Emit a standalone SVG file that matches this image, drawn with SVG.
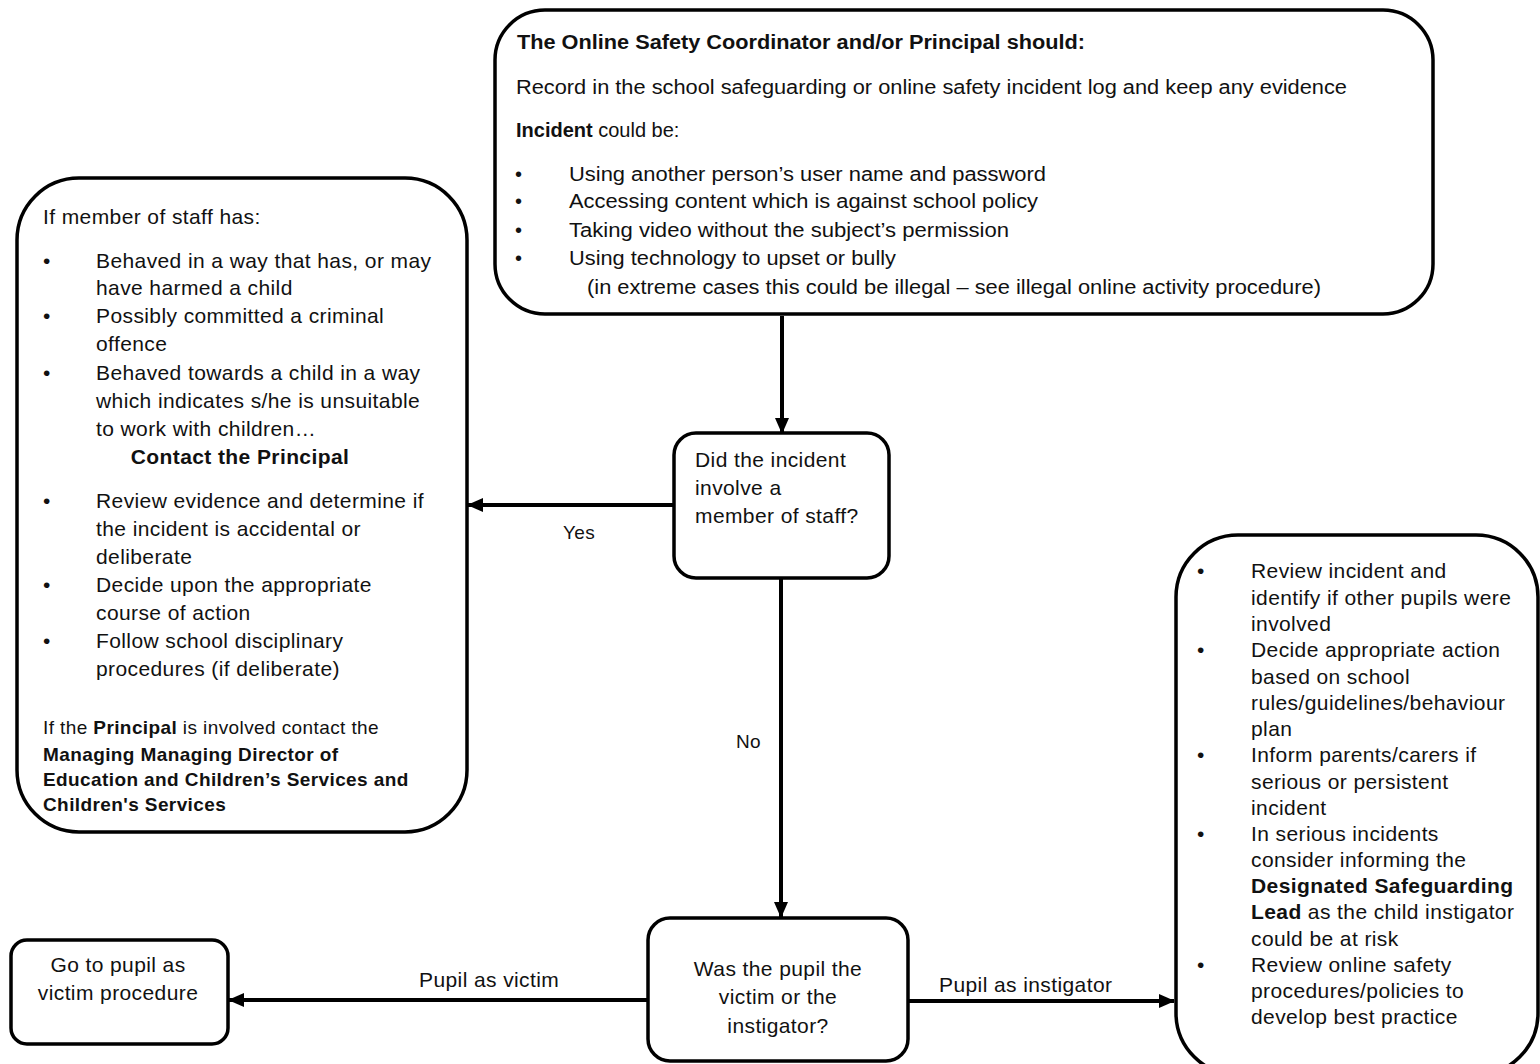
<svg xmlns="http://www.w3.org/2000/svg" width="1540" height="1064" viewBox="0 0 1540 1064">
<defs>
<marker id="ah" markerUnits="userSpaceOnUse" markerWidth="16" markerHeight="14" refX="15" refY="7" orient="auto">
<path d="M0,0 L16,7 L0,14 z" fill="#000"/>
</marker>
<style>
.box{fill:#fff;stroke:#000;stroke-width:3.5}
.t{font-family:"Liberation Sans",Arial,sans-serif;font-size:21px;letter-spacing:0.4px;fill:#111}
.n{font-size:20px;letter-spacing:0}
.b{font-weight:bold}
.s{font-size:19px}
.c{text-anchor:middle}
.edge{stroke:#000;stroke-width:4;fill:none;marker-end:url(#ah)}
</style>
</defs>
<rect width="1540" height="1064" fill="#fff"/>

<g id="connectors">
<line class="edge" x1="782" y1="316" x2="782" y2="433"/>
<line class="edge" x1="674" y1="505" x2="468" y2="505"/>
<line class="edge" x1="781" y1="578" x2="781" y2="917"/>
<line class="edge" x1="648" y1="1000" x2="229" y2="1000"/>
<line class="edge" x1="908" y1="1001" x2="1174" y2="1001"/>
<text class="t s" x="563" y="539">Yes</text>
<text class="t s" x="736" y="748">No</text>
<text class="t" x="419" y="987">Pupil as victim</text>
<text class="t" x="939" y="992">Pupil as instigator</text>
</g>

<g id="top-box">
<rect class="box" x="495" y="10" width="938" height="304" rx="50" ry="50"/>
<text class="t n b" x="517" y="49" textLength="568" lengthAdjust="spacingAndGlyphs">The Online Safety Coordinator and/or Principal should:</text>
<text class="t n" x="516" y="94" textLength="831" lengthAdjust="spacingAndGlyphs">Record in the school safeguarding or online  safety incident log and keep any evidence</text>
<text class="t n" x="516" y="137"><tspan class="b">Incident</tspan> could be:</text>
<text class="t n" x="515" y="181">•</text>
<text class="t n" x="569" y="181" textLength="477" lengthAdjust="spacingAndGlyphs">Using another person’s user name and password</text>
<text class="t n" x="515" y="208">•</text>
<text class="t n" x="569" y="208" textLength="469" lengthAdjust="spacingAndGlyphs">Accessing content which is against school policy</text>
<text class="t n" x="515" y="237">•</text>
<text class="t n" x="569" y="237" textLength="440" lengthAdjust="spacingAndGlyphs">Taking video without the subject’s permission</text>
<text class="t n" x="515" y="265">•</text>
<text class="t n" x="569" y="265" textLength="327" lengthAdjust="spacingAndGlyphs">Using technology to upset or bully</text>
<text class="t n" x="587" y="294" textLength="734" lengthAdjust="spacingAndGlyphs">(in extreme cases this could be illegal  – see illegal  online  activity procedure)</text>
</g>

<g id="staff-box">
<rect class="box" x="17" y="178" width="450" height="654" rx="62" ry="62"/>
<text class="t" x="43" y="224">If member of staff has:</text>
<text class="t" x="43" y="268">•</text>
<text class="t" x="96" y="268">Behaved in a way that has, or may</text>
<text class="t" x="96" y="295">have harmed a child</text>
<text class="t" x="43" y="323">•</text>
<text class="t" x="96" y="323">Possibly committed a criminal</text>
<text class="t" x="96" y="351">offence</text>
<text class="t" x="43" y="380">•</text>
<text class="t" x="96" y="380">Behaved towards a child in a way</text>
<text class="t" x="96" y="408">which indicates s/he is unsuitable</text>
<text class="t" x="96" y="436">to work with children…</text>
<text class="t b" x="240" y="464" text-anchor="middle">Contact the Principal</text>
<text class="t" x="43" y="508">•</text>
<text class="t" x="96" y="508">Review evidence and determine if</text>
<text class="t" x="96" y="536">the incident is accidental or</text>
<text class="t" x="96" y="564">deliberate</text>
<text class="t" x="43" y="592">•</text>
<text class="t" x="96" y="592">Decide upon the appropriate</text>
<text class="t" x="96" y="620">course of action</text>
<text class="t" x="43" y="648">•</text>
<text class="t" x="96" y="648">Follow school disciplinary</text>
<text class="t" x="96" y="676">procedures (if deliberate)</text>
<text class="t s" x="43" y="734">If the <tspan class="b">Principal</tspan> is involved  contact the</text>
<text class="t s b" x="43" y="761">Managing Managing Director of</text>
<text class="t s b" x="43" y="786">Education and Children’s  Services and</text>
<text class="t s b" x="43" y="811">Children's  Services</text>
</g>

<g id="decision-staff">
<rect class="box" x="674" y="433" width="215" height="145" rx="22" ry="22"/>
<text class="t" x="695" y="467">Did the incident</text>
<text class="t" x="695" y="495">involve  a</text>
<text class="t" x="695" y="523">member of staff?</text>
</g>

<g id="decision-pupil">
<rect class="box" x="648" y="918" width="260" height="143" rx="22" ry="22"/>
<text class="t c" x="778" y="976">Was the pupil the</text>
<text class="t c" x="778" y="1004">victim or the</text>
<text class="t c" x="778" y="1033">instigator?</text>
</g>

<g id="victim-box">
<rect class="box" x="11" y="940" width="217" height="104" rx="16" ry="16"/>
<text class="t c" x="118" y="972">Go to pupil as</text>
<text class="t c" x="118" y="1000">victim procedure</text>
</g>

<g id="instigator-box">
<rect class="box" x="1176" y="535" width="362" height="540" rx="62" ry="62"/>
<text class="t" x="1197" y="578">•</text>
<text class="t" x="1251" y="578">Review incident and</text>
<text class="t" x="1251" y="605">identify if other pupils were</text>
<text class="t" x="1251" y="631">involved</text>
<text class="t" x="1197" y="657">•</text>
<text class="t" x="1251" y="657">Decide appropriate action</text>
<text class="t" x="1251" y="684">based on school</text>
<text class="t" x="1251" y="710">rules/guidelines/behaviour</text>
<text class="t" x="1251" y="736">plan</text>
<text class="t" x="1197" y="762">•</text>
<text class="t" x="1251" y="762">Inform parents/carers if</text>
<text class="t" x="1251" y="789">serious or persistent</text>
<text class="t" x="1251" y="815">incident</text>
<text class="t" x="1197" y="841">•</text>
<text class="t" x="1251" y="841">In serious incidents</text>
<text class="t" x="1251" y="867">consider informing the</text>
<text class="t b" x="1251" y="893">Designated Safeguarding</text>
<text class="t" x="1251" y="919"><tspan class="b">Lead</tspan> as the child instigator</text>
<text class="t" x="1251" y="946">could be at risk</text>
<text class="t" x="1197" y="972">•</text>
<text class="t" x="1251" y="972">Review online  safety</text>
<text class="t" x="1251" y="998">procedures/policies to</text>
<text class="t" x="1251" y="1024">develop best practice</text>
</g>
</svg>
